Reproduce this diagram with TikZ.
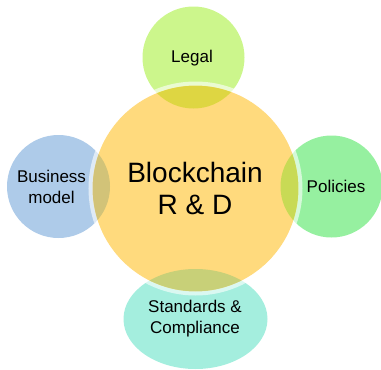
\documentclass[tikz,border=0pt]{standalone}
\usepackage{fontspec}
\setmainfont{Liberation Sans}
\definecolor{cfill}{RGB}{255,218,125}
\definecolor{clegal}{RGB}{204,246,140}
\definecolor{olegal}{RGB}{222,214,66}
\definecolor{cbiz}{RGB}{174,203,233}
\definecolor{obiz}{RGB}{210,195,120}
\definecolor{cpol}{RGB}{150,240,160}
\definecolor{opol}{RGB}{200,218,85}
\definecolor{cstd}{RGB}{164,238,222}
\definecolor{ostd}{RGB}{200,208,120}
\tikzset{
  blob/.style={circle, inner sep=0pt, draw=none},
  oval/.style={ellipse, inner sep=0pt, draw=none},
  small/.style={align=center, font=\fontsize{17}{21}\selectfont, inner sep=0pt},
  big/.style={align=center, font=\fontsize{28}{32}\selectfont, inner sep=0pt},
  band/.style={draw=white, opacity=0.6, line width=4pt}
}
\usetikzlibrary{shapes.geometric}
\begin{document}
\begin{tikzpicture}[x=1pt,y=-1pt]
\useasboundingbox (0,0) rectangle (381,370);
% outer shapes
\node[blob, fill=clegal, minimum size=102pt] (legal) at (193.5,57.5) {};
\node[blob, fill=cbiz, minimum size=103pt] (biz) at (58.5,186.5) {};
\node[blob, fill=cpol, minimum size=102pt] (pol) at (331.5,186.5) {};
\node[oval, fill=cstd, minimum width=144pt, minimum height=100pt] (std) at (195.5,319) {};
% center
\node[blob, fill=cfill, minimum size=206pt] (core) at (195.5,188.5) {};
% overlaps
\begin{scope}
  \clip (195.5,188.5) circle (103pt);
  \fill[olegal] (193.5,57.5) circle (51pt);
  \fill[obiz] (58.5,186.5) circle (51.5pt);
  \fill[opol] (331.5,186.5) circle (51pt);
  \fill[ostd] (195.5,319) ellipse [x radius=72pt, y radius=50pt];
\end{scope}
% white band round the center
\draw[band] (195.5,188.5) circle (105pt);
% texts
\node[small] (legaltxt) at (192,58) {Legal};
\node[small] (biztxt) at (51.5,186.5) {Business\\model};
\node[small] (poltxt) at (336,186.5) {Policies};
\node[small] (stdtxt) at (195,318.5) {Standards \&\\Compliance};
\node[big] (coretxt) at (195,188) {Blockchain\\R \& D};
\end{tikzpicture}
\end{document}
